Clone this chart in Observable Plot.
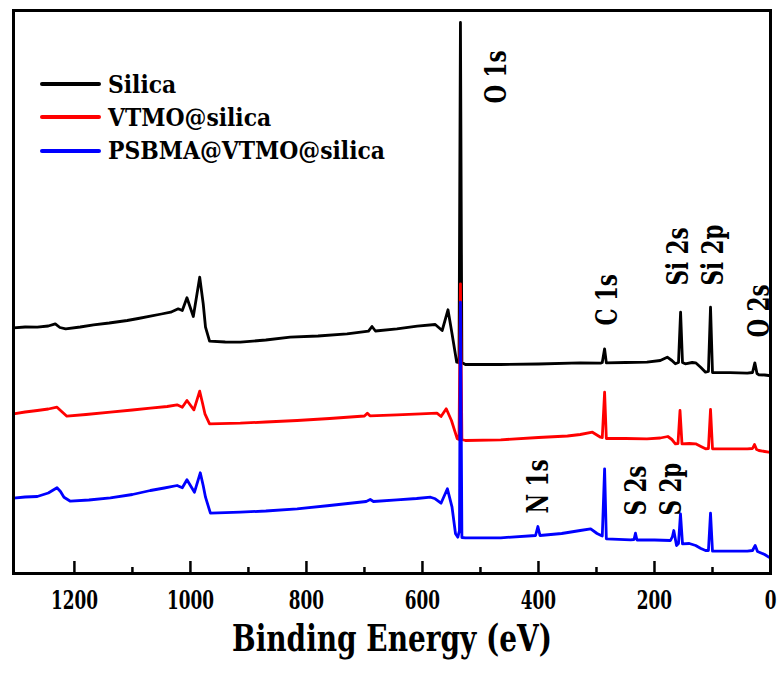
<!DOCTYPE html>
<html><head><meta charset="utf-8">
<script src="https://cdn.jsdelivr.net/npm/d3@7"></script>
<script src="https://cdn.jsdelivr.net/npm/@observablehq/plot@0.6"></script>
<style>
body{margin:0;background:#fff}
#wrap{position:relative;width:781px;height:675px}
#wrap svg{display:block}
.lg-line{position:absolute;height:4px;width:61px;left:40px;border-radius:2px}
.lg-text{position:absolute;left:108px;font-weight:bold;font-size:25px;font-family:"DejaVu Serif Condensed","DejaVu Serif","Liberation Serif",serif;line-height:25px;white-space:nowrap;color:#000;transform-origin:0 50%}
</style></head><body><div id="wrap"></div>
<script>
// Series names and colours
const seriesNames = ["Silica", "VTMO@silica", "PSBMA@VTMO@silica"];
const seriesColors = ["#000000", "#ff0000", "#0000ff"];

// Binding energy (eV), intensity (a.u.)
const silica = [
[1305,245.7],[1285,246.5],[1264,246.3],[1245,247.5],[1233,249.7],[1225,246],[1215,244.7],[1190,246.5],[1167,248.7],
[1140,250.5],[1109,253],[1090,255],[1069,257.3],[1050,259.5],[1034,261.3],
[1021,264.7],[1014,263],[1006,275.7],[995,257],[984,296.3],[978,270],[974,246.3],[967,232.3],[940,231.5],[914,231.3],
[870,233.5],[828,236.3],[780,237.5],[730,239.7],[693,242.3],[687,247],[681,242.5],[644,244.7],[609,247.3],[578,249],
[566,243],[556,263.7],[549,239.7],[541,211.3],[537,211],[534.5,551],[532,211],[526,209],[465,209],
[400,209.5],[328,210.7],[293,210.3],[290,211],[286,224.7],[283,210.7],[250,211],[213,211.3],[190,213],[178,216.3],[170,213],[164,209.7],
[158.6,211],[155,261.3],[151.7,211],[147,209.7],[135,211],[129,210.7],[120,206],[112,201.3],[107,202],[103.4,266.3],
[100,201],[70,200.8],[40,200.3],[31,201],[27,210.7],[23.3,200],[20,198.7],[10,198.5],[3,198],[0,197.5]
];
const vtmo = [
[1305,159.7],[1285,161.5],[1264,163],[1245,164.5],[1230,166.3],[1222,162],[1213,157.3],[1180,159],[1138,161.3],[1100,163.5],[1069,165.3],[1040,167],[1023,168.7],[1014,166.3],
[1006,173],[994,163.7],[984,182.3],[979,170],[975,159.7],[967,149.7],[914,150.3],[870,151.5],[816,153],[760,155],[700,157.5],
[695,160.3],[690.5,157.7],[644,158.7],[603,159.7],[575,160.3],[568,157],[559,164.7],[550,153],
[540,134.7],[537,134],[534.5,289.7],[532,134],[526,133],[465,133.7],[400,136],[350,137.5],[328,139],[307,141.3],
[293,136.3],[290,136],[286,181.3],[283,135],[250,135],[213,134.7],[190,135.5],[177,137],[170,134],[164,129.7],[159.5,130],
[156,163],[152.6,129.7],[140,130],[129,129.7],[120,127],[112,124.7],[107,125],[103.4,164],[100,124.7],[70,124.7],[40,124.7],
[31,125],[27.6,129],[24,124],[20,123],[10,122],[3,121.3],[0,121]
];
const psbma = [
[1305,75.3],[1285,76.5],[1264,77],[1245,80.5],[1235,84],[1230,85.7],[1224,82],[1218,76.3],[1207,72.3],[1175,73.5],[1138,75.7],[1100,79],[1069,83],[1045,85.5],[1023,88],
[1014,85.7],[1006,93.7],[993,81.3],[983,100.7],[978,88],[974,76.3],[965.5,60.3],[914,61.3],[870,62.5],[816,64.7],[760,68],
[697,72],[690,74],[684.5,72],[644,73.7],[610,75],[586,76.3],[578,74.7],[568,70.3],[557,84.7],[549,66.3],
[543,39.7],[539,36.3],[536.2,43],[534.5,271.3],[532,36],[526,35.7],[465,35.7],[405,38],[401,47],
[397.4,38],[360,40],[328,43],[310,44.7],[299,40],[292,38],[290,37.5],[286,104.7],[283,34.7],[241,33.7],
[235.3,34],[232.8,40.3],[230.2,33.5],[200,33.5],[172.4,33],[169,37],[166.7,43],[162,28],[158.6,30],
[155.2,59.7],[151.7,29.7],[140,30],[129,28],[120,25],[112,23],[107,23],[103.4,60.3],[100,22.3],[70,22.3],[40,22.3],[31,23],
[26.4,28],[22.4,22],[10,19],[3,16.3],[0,16]
];

// Axis ticks
const majorTicks = [0, 200, 400, 600, 800, 1000, 1200];
const minorTicks = [100, 300, 500, 700, 900, 1100];

// Peak annotations
const peakLabels = ["O 1s", "C 1s", "Si 2s", "Si 2p", "O 2s", "N 1s", "S 2s", "S 2p"];
const peakEV     = [472, 281, 158.6, 98.3, 19, 400, 231, 170.7];
const peakLevel  = [470, 248, 288, 288, 236, 60, 58, 58];

const xLabel = "Binding Energy (eV)";

const rows = [silica, vtmo, psbma].flatMap((arr, k) =>
  arr.map(([ev, i]) => ({ev, i, series: seriesNames[k]})));
const peaks = peakLabels.map((label, k) => ({label, ev: peakEV[k], y: peakLevel[k]}));

const font = "'DejaVu Serif Condensed', 'DejaVu Serif', 'Liberation Serif', serif";
const chart = Plot.plot({
  width: 781, height: 675,
  marginTop: 10, marginLeft: 13, marginRight: 11, marginBottom: 102,
  x: {domain: [1305, 0], axis: null},
  y: {domain: [0, 563], axis: null},
  color: {domain: seriesNames, range: seriesColors},
  style: {fontFamily: font, background: "white", overflow: "visible"},
  marks: [
    Plot.line(rows, {x: "ev", y: "i", z: "series", stroke: "series", strokeWidth: 2.8,
      strokeLinejoin: "round", strokeLinecap: "round"}),
    Plot.ruleX(majorTicks, {x: d => d, y1: 0, y2: 12, strokeWidth: 2.5}),
    Plot.ruleX(minorTicks, {x: d => d, y1: 0, y2: 6, strokeWidth: 2.5}),
    Plot.frame({stroke: "black", strokeWidth: 3}),
    Plot.axisX({ticks: majorTicks, tickSize: 0, tickPadding: 17, tickFormat: d3.format("d"),
      fontSize: 26, fontWeight: "bold", label: null, fill: "black", fontFamily: font}),
    Plot.text(peaks, {x: "ev", y: "y", text: "label", rotate: -90, textAnchor: "start",
      fontSize: 30, fontWeight: "bold", fill: "black", fontFamily: font}),
    Plot.text([xLabel], {text: d => d, frameAnchor: "bottom", dy: 77, fontSize: 37,
      fontWeight: "bold", fill: "black", fontFamily: font})
  ]
});
const wrap = document.getElementById("wrap");
wrap.appendChild(chart);

// condense text horizontally so glyph proportions follow the reference
const allTexts = Array.from(chart.querySelectorAll("text"));
function condense(strings, refText, targetWidth) {
  const texts = allTexts.filter(t => strings.includes(t.textContent));
  const ref = texts.find(t => t.textContent === refText);
  if (!ref) return;
  const f = targetWidth / ref.getComputedTextLength();
  texts.forEach(t => {
    const w = t.getComputedTextLength();
    t.setAttribute("textLength", (w * f).toFixed(2));
    t.setAttribute("lengthAdjust", "spacingAndGlyphs");
  });
}
condense(majorTicks.map(String), "1200", 47);
condense(peakLabels, "O 1s", 53);
condense([xLabel], xLabel, 320);

// Legend overlay
const legendTexts = [];
seriesNames.forEach((name, k) => {
  const line = document.createElement("div");
  line.className = "lg-line";
  line.style.top = (82 + 33.4 * k) + "px";
  line.style.background = seriesColors[k];
  wrap.appendChild(line);
  const t = document.createElement("div");
  t.className = "lg-text";
  t.style.top = (72 + 33 * k) + "px";
  t.textContent = name;
  wrap.appendChild(t);
  legendTexts.push(t);
});
const lf = 277 / legendTexts[2].getBoundingClientRect().width;
legendTexts.forEach(t => { t.style.transform = `scaleX(${lf})`; });
</script></body></html>
